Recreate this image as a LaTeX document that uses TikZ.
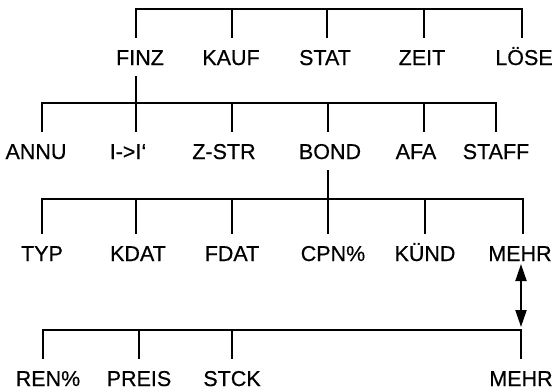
\documentclass[tikz,border=0pt]{standalone}
\usepackage{fontspec}
\setmainfont[FakeBold=0.5]{Liberation Sans}
\usepackage{tikz}
\usetikzlibrary{arrows.meta, positioning, calc}

\begin{document}
\begin{tikzpicture}[x=1pt, y=-1pt, line width=2pt, line join=miter, >={Triangle[length=17pt, width=11pt]},
    lbl/.style={inner xsep=0pt, inner ysep=10pt, text height=16pt, text depth=0pt, font=\fontsize{21.5}{24}\selectfont}]
    \useasboundingbox (0,0) rectangle (554,391);

    \coordinate (a1) at (136,9);   \coordinate (a2) at (232,9);   \coordinate (a3) at (327,9);
    \coordinate (a4) at (424,9);   \coordinate (a5) at (522,9);
    \node[lbl] (finz) at (140,57) {FINZ};
    \node[lbl] (kauf) at (231,57) {KAUF};
    \node[lbl] (stat) at (325,57) {STAT};
    \node[lbl] (zeit) at (422,57) {ZEIT};
    \node[lbl] (loese) at (524,57) {LÖSE};
    \draw (a1 |- finz.north) -- (a1) -- (a5) -- (a5 |- loese.north);
    \foreach \t/\n in {a2/kauf, a3/stat, a4/zeit}
        \draw (\t) -- (\t |- \n.north);

    \coordinate (b1) at (42,103);  \coordinate (b2) at (136,103); \coordinate (b3) at (232,103);
    \coordinate (b4) at (328,103); \coordinate (b5) at (424,103); \coordinate (b6) at (496,103);
    \node[lbl] (annu) at (36,151) {ANNU};
    \node[lbl] (iconv) at (128,151) {I->I‘};
    \node[lbl] (zstr) at (224,151) {Z-STR};
    \node[lbl] (bond) at (330,151) {BOND};
    \node[lbl] (afa) at (416,151) {AFA};
    \node[lbl] (staff) at (496,151) {STAFF};
    \draw (b2 |- finz.south) -- (b2);
    \draw (b1 |- annu.north) -- (b1) -- (b6) -- (b6 |- staff.north);
    \draw[line width=2.8pt] (b5) -- (b6) -- (b6 |- staff.north);
    \foreach \t/\n in {b2/iconv, b3/zstr, b4/bond, b5/afa}
        \draw (\t) -- (\t |- \n.north);

    \coordinate (c1) at (42,199);  \coordinate (c2) at (136,199); \coordinate (c3) at (232,199);
    \coordinate (c4) at (328,199); \coordinate (c5) at (425,199); \coordinate (c6) at (523,199);
    \node[lbl] (typ) at (42,253) {TYP};
    \node[lbl] (kdat) at (138,253) {KDAT};
    \node[lbl] (fdat) at (232,253) {FDAT};
    \node[lbl] (cpn) at (333,253) {CPN\%};
    \node[lbl] (kuend) at (425,253) {KÜND};
    \node[lbl] (mehrA) at (520,253) {MEHR};
    \draw (c4 |- bond.south) -- (c4);
    \draw (c1 |- typ.north) -- (c1) -- (c6) -- (c6 |- mehrA.north);
    \foreach \t/\n in {c2/kdat, c3/fdat, c4/cpn, c5/kuend}
        \draw (\t) -- (\t |- \n.north);

    \coordinate (d1) at (43,330);  \coordinate (d2) at (139,330); \coordinate (d3) at (232,330);
    \coordinate (d4) at (521,330);
    \node[lbl] (ren) at (48,378) {REN\%};
    \node[lbl] (preis) at (139,378) {PREIS};
    \node[lbl] (stck) at (232,378) {STCK};
    \node[lbl] (mehrB) at (521,378) {MEHR};
    \draw (d1 |- ren.north) -- (d1) -- (d4) -- (d4 |- mehrB.north);
    \foreach \t/\n in {d2/preis, d3/stck}
        \draw (\t) -- (\t |- \n.north);

    \draw[<->, shorten <=-8pt, shorten >=3pt] (d4 |- mehrA.south) -- (d4);
\end{tikzpicture}
\end{document}
